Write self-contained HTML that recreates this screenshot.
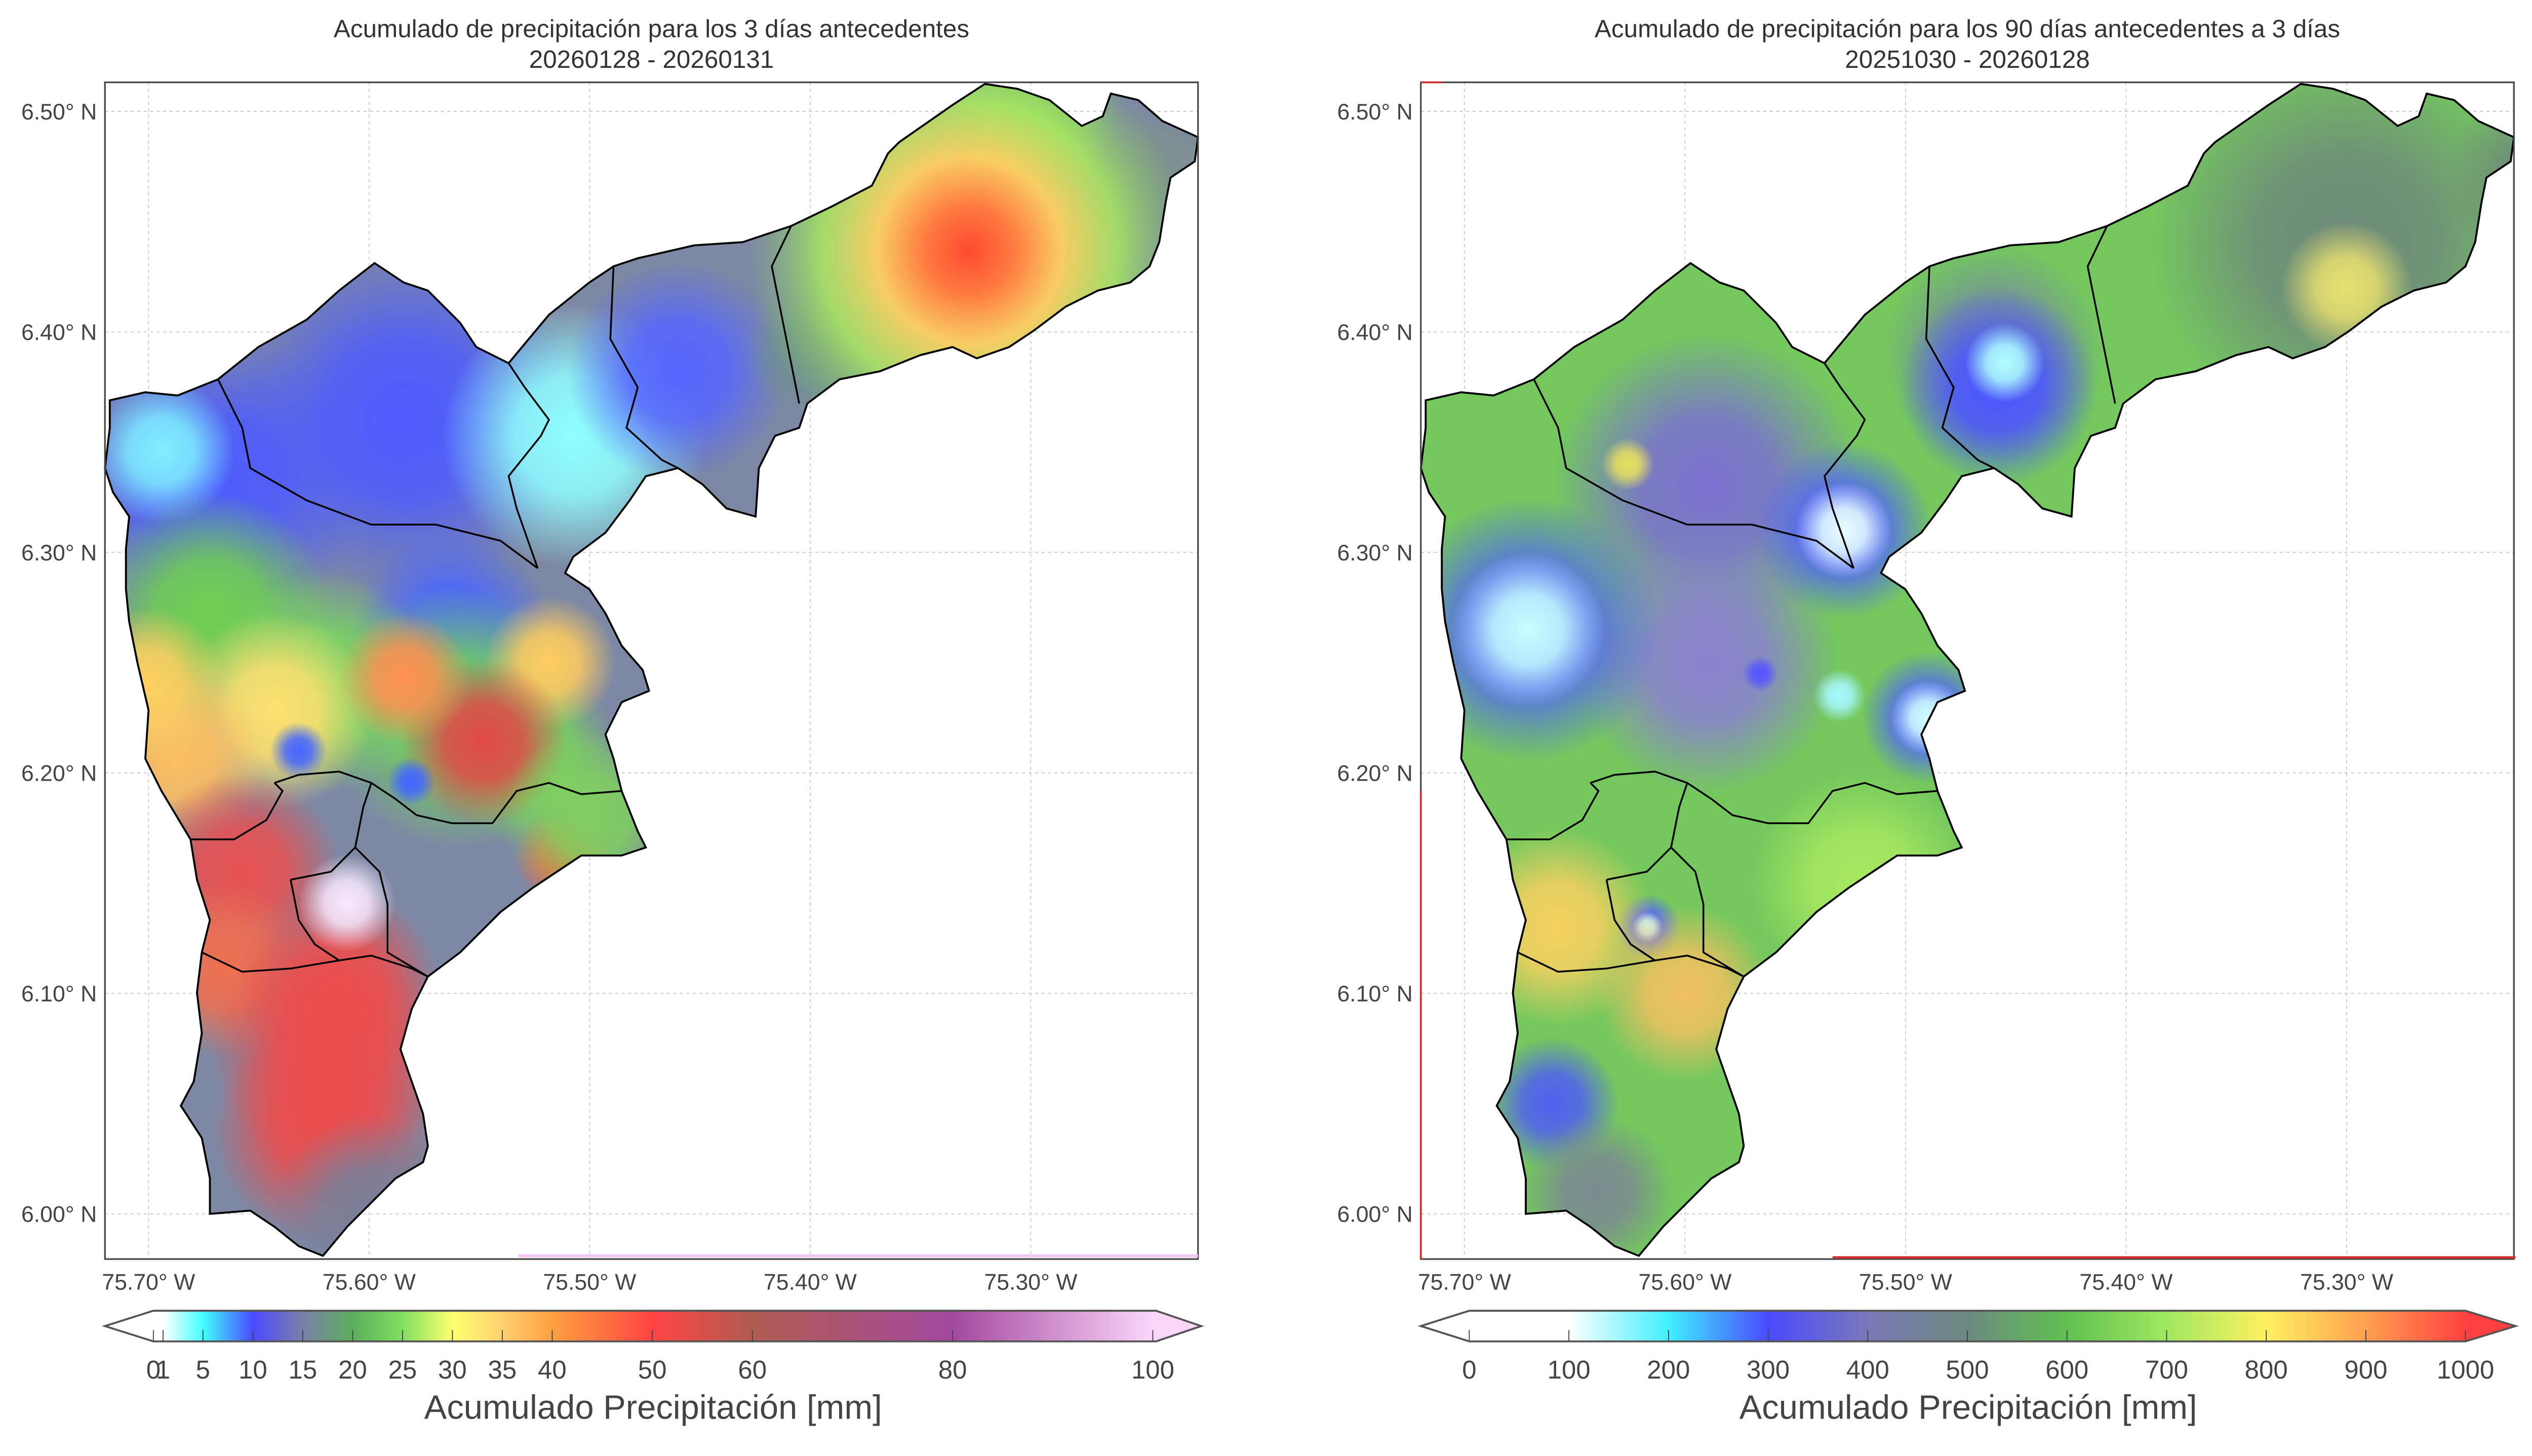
<!DOCTYPE html>
<html><head><meta charset="utf-8">
<style>
html,body{margin:0;padding:0;background:#fff;}
svg{display:block;font-family:"Liberation Sans",sans-serif;}
</style></head>
<body>
<svg id="fig" width="5044" height="2876" viewBox="0 0 1582 902" preserveAspectRatio="none" xmlns="http://www.w3.org/2000/svg">
<defs id="defs"></defs>
<g id="root"></g>
</svg>
<script>
// ---- Data ----
const lonTicks=[75.70,75.60,75.50,75.40,75.30];
const latTicks=[6.50,6.40,6.30,6.20,6.10,6.00];
const leftTitle=["Acumulado de precipitación para los 3 días antecedentes","20260128 - 20260131"];
const rightTitle=["Acumulado de precipitación para los 90 días antecedentes a 3 días","20251030 - 20260128"];
const cbLeftTicks=[0,1,5,10,15,20,25,30,35,40,50,60,80,100];
const cbLeftLabels=["0","1","5","10","15","20","25","30","35","40","50","60","80","100"];
const cbLeftColors=["#ffffff","#ffffff","#40ffff","#4a4aff","#7a80a8","#5cae5c","#80e060","#ffff70","#ffd070","#ffa040","#ff4444","#b05c50","#a448a0","#fad6fa"];
const cbRightTicks=[0,100,200,300,400,500,600,700,800,900,1000];
const cbRightColors=["#ffffff","#ffffff","#40f0ff","#4a4aff","#7a78b8","#6c8a80","#60c050","#a0e860","#fff060","#ffa050","#ff4040"];
const leftLon=[75.672,75.694,75.584,75.507,75.460,75.562,75.672,75.560,75.621,75.526,75.643,75.518,75.687,75.548,75.658,75.665,75.621,75.614,75.617,75.584,75.610,75.600,75.240,75.400,75.632,75.581,75.512,75.500,75.300,75.700];
const leftLat=[6.331,6.346,6.360,6.353,6.382,6.265,6.272,6.225,6.241,6.206,6.228,6.250,6.206,6.214,6.155,6.111,6.038,6.104,6.075,6.243,6.141,6.000,6.470,6.390,6.210,6.196,6.162,6.180,6.500,6.240];
const leftRad=[0.070,0.033,0.080,0.060,0.050,0.045,0.055,0.060,0.050,0.040,0.045,0.030,0.040,0.038,0.045,0.040,0.050,0.045,0.055,0.030,0.022,0.045,0.035,0.030,0.013,0.011,0.022,0.040,0.040,0.035];
const leftCol=["#4d5bff","#80efff","#4d5bff","#90ffff","#5566ff","#4a66ff","#70d050","#70d060","#78d860","#78d060","#ffe070","#ffcc60","#ffc060","#e04848","#e85050","#f07050","#ec4c4c","#e85050","#ec4c4c","#ff9050","#f8e8ff","#7a7f98","#7f8f90","#6f8f90","#4466ff","#4466ff","#ff6040","#80d060","#80c070","#ffd060"];
const hotLon=75.328, hotLat=6.437, hotRad=0.10;
const rightLon=[75.300,75.210,75.460,75.458,75.455,75.590,75.590,75.671,75.671,75.528,75.528,75.490,75.490,75.530,75.566,75.617,75.617,75.658,75.600,75.626,75.300,75.660,75.640,75.520];
const rightLat=[6.440,6.470,6.390,6.375,6.386,6.330,6.250,6.265,6.265,6.310,6.310,6.225,6.225,6.235,6.245,6.130,6.130,6.130,6.100,6.340,6.420,6.050,6.010,6.150];
const rightRad=[0.090,0.045,0.050,0.045,0.018,0.070,0.060,0.060,0.035,0.040,0.022,0.030,0.017,0.012,0.008,0.015,0.007,0.045,0.040,0.012,0.030,0.030,0.035,0.050];
const rightCol=["#6e8a7a","#6e8a7a","#768aa0","#4a55ff","#b0ffff","#7a70d0","#8a80d0","#5060ff","#c8ffff","#5060ff","#e8ffff","#5060ff","#d0ffff","#a8f8ff","#5555ff","#5060ff","#d0ffff","#f6d060","#f0c060","#e8e060","#e8e070","#5060f0","#7a8a90","#a8e860"];

const PX=1366;
function X(lon,off){return 92+off+(75.70-lon)*PX;}
function Y(lat){return 69+(6.50-lat)*PX;}
const outline=[[557,88],[590,65],[610,52],[630,55],[650,62],[670,78],[683,72],[688,58],[705,62],[720,75],[742,85],[740,100],[725,110],[722,125],[718,150],[712,165],[700,175],[680,180],[660,190],[640,205],[625,215],[605,222],[590,215],[570,220],[545,230],[520,235],[500,250],[495,265],[480,270],[470,290],[468,320],[450,315],[435,300],[420,290],[400,295],[390,310],[375,330],[355,345],[350,355],[365,365],[375,380],[385,400],[398,415],[402,428],[385,435],[375,455],[380,470],[385,490],[395,515],[400,525],[385,530],[360,530],[345,540],[330,550],[310,565],[285,590],[265,605],[255,625],[248,650],[255,670],[262,690],[265,710],[262,720],[245,730],[230,745],[215,760],[200,778],[185,772],[170,760],[155,750],[130,752],[130,730],[125,705],[112,685],[120,670],[125,640],[122,615],[125,590],[130,570],[122,545],[118,520],[100,490],[90,470],[92,440],[85,410],[80,385],[78,365],[78,340],[80,320],[70,305],[65,290],[68,265],[68,248],[90,243],[110,245],[135,235],[160,215],[190,198],[210,180],[232,163],[250,175],[265,180],[285,200],[295,215],[315,225],[340,195],[365,175],[380,165],[395,160],[430,152],[460,150],[490,140],[515,128],[540,115],[550,95]];
const borders=[
[[135,235],[150,265],[155,290],[190,310],[230,325],[270,325],[310,335],[333,352]],
[[315,225],[325,240],[340,260],[335,270],[315,295],[320,315],[333,352]],
[[380,165],[378,210],[395,240],[388,265],[410,285],[420,290]],
[[490,140],[478,165],[485,200],[495,250]],
[[170,485],[185,480],[210,478],[230,485],[245,495],[258,505],[280,510],[305,510],[320,490],[340,485],[360,492],[385,490]],
[[118,520],[145,520],[165,508],[175,490],[170,485]],
[[230,485],[225,500],[220,525],[235,540],[240,560],[240,590],[265,605]],
[[180,545],[185,570],[195,585],[210,595],[230,592],[255,600],[265,605]],
[[125,590],[150,602],[180,600],[210,595]],
[[180,545],[205,540],[220,525]]];

const NS="http://www.w3.org/2000/svg";
const root=document.getElementById('root');
const defs=document.getElementById('defs');
function mk(tag,attrs,parent){const e=document.createElementNS(NS,tag);for(const k in attrs)e.setAttribute(k,attrs[k]);(parent||root).appendChild(e);return e;}
let gid=0;
function ptsStr(off){return outline.map(p=>(p[0]+off)+','+p[1]).join(' ');}

function blob(g,lon,lat,r,col,off){
  const id='rg'+(gid++);
  const rg=mk('radialGradient',{id:id},defs);
  mk('stop',{offset:'0','stop-color':col,'stop-opacity':'1'},rg);
  mk('stop',{offset:'0.45','stop-color':col,'stop-opacity':'0.85'},rg);
  mk('stop',{offset:'1','stop-color':col,'stop-opacity':'0'},rg);
  const c=mk('circle',{cx:X(lon,off),cy:Y(lat),r:r*PX,fill:'url(#'+id+')'},g);
  
  
}

function panel(off,title,base,lons,lats,rads,cols,hot,name){
  const g=mk('g',{});
  
  
  const ax0=65+off, ax1=742+off;
  lonTicks.forEach(v=>{mk('line',{x1:X(v,off),x2:X(v,off),y1:51,y2:780,stroke:'#ccc','stroke-width':0.6,'stroke-dasharray':'2,2'},g);});
  latTicks.forEach(v=>{mk('line',{x1:ax0,x2:ax1,y1:Y(v),y2:Y(v),stroke:'#ccc','stroke-width':0.6,'stroke-dasharray':'2,2'},g);});
  const cid='clip'+off;
  const cp=mk('clipPath',{id:cid},defs);
  mk('polygon',{points:ptsStr(off)},cp);
  const mg=mk('g',{'clip-path':'url(#'+cid+')'},g);
  
  
  mk('rect',{x:ax0,y:40,width:700,height:760,fill:base},mg);
  for(let i=0;i<lons.length;i++)blob(mg,lons[i],lats[i],rads[i],cols[i],off);
  if(hot){
    const id='hot'+off;
    const rg=mk('radialGradient',{id:id},defs);
    [['0','#ff4a30',1],['0.2','#ff7a40',1],['0.42','#ffd060',0.95],['0.68','#a8e860',0.85],['1','#80d060',0]].forEach(s=>mk('stop',{offset:s[0],'stop-color':s[1],'stop-opacity':s[2]},rg));
    const c=mk('circle',{cx:X(hot[0],off),cy:Y(hot[1]),r:hot[2]*PX,fill:'url(#'+id+')'},mg);
    
    
  }
  const ol=mk('polygon',{points:ptsStr(off),fill:'none',stroke:'#000','stroke-width':1.2},g);
  
  
  borders.forEach(b=>{const l=mk('polyline',{points:b.map(p=>(p[0]+off)+','+p[1]).join(' '),fill:'none',stroke:'#000','stroke-width':1.1},g);
    });
  mk('rect',{x:ax0,y:51,width:677,height:729,fill:'none',stroke:'#444','stroke-width':1},g);
  lonTicks.forEach(v=>{const t=mk('text',{x:X(v,off),y:799,'text-anchor':'middle','font-size':14,fill:'#444'},g);t.textContent=v.toFixed(2)+'° W';
    });
  latTicks.forEach(v=>{const t=mk('text',{x:ax0-5,y:Y(v)+5,'text-anchor':'end','font-size':14,fill:'#444'},g);t.textContent=v.toFixed(2)+'° N';
    });
  title.forEach((s,i)=>{const t=mk('text',{x:(ax0+ax1)/2,y:23+i*19,'text-anchor':'middle','font-size':15.5,fill:'#333'},g);t.textContent=s;
    });
}

panel(0,leftTitle,'#7d88a4',leftLon,leftLat,leftRad,leftCol,[hotLon,hotLat,hotRad],'left-map-panel');
panel(815,rightTitle,'#74c85e',rightLon,rightLat,rightRad,rightCol,null,'right-map-panel');
mk('line',{x1:880,x2:893,y1:51,y2:51,stroke:'#d03030','stroke-width':1.2});
mk('line',{x1:880,x2:880,y1:490,y2:780,stroke:'#d03030','stroke-width':1.2});
mk('line',{x1:1135,x2:1558,y1:779,y2:779,stroke:'#d03030','stroke-width':1.5});
mk('line',{x1:321,x2:742,y1:778,y2:778,stroke:'#f4c8f4','stroke-width':2});

function colorbar(x0,x1,tip0,tip1,ticks,labels,colors,posFn,endL,endR,name){
  const g=mk('g',{});
  
  
  const id='cb'+x0;
  const lg=mk('linearGradient',{id:id,x1:'0',x2:'1',y1:'0',y2:'0'},defs);
  ticks.forEach((v,i)=>mk('stop',{offset:((posFn(v)-x0)/(x1-x0)).toFixed(4),'stop-color':colors[i]},lg));
  const y0=812,y1=831;
  mk('polygon',{points:`${tip0},${(y0+y1)/2} ${x0},${y0} ${x0},${y1}`,fill:endL},g);
  mk('polygon',{points:`${tip1},${(y0+y1)/2} ${x1},${y0} ${x1},${y1}`,fill:endR},g);
  mk('rect',{x:x0,y:y0,width:x1-x0,height:y1-y0,fill:'url(#'+id+')'},g);
  mk('polygon',{points:`${tip0},${(y0+y1)/2} ${x0},${y0} ${x1},${y0} ${tip1},${(y0+y1)/2} ${x1},${y1} ${x0},${y1}`,fill:'none',stroke:'#555','stroke-width':1.2},g);
  ticks.forEach((v,i)=>{const px=posFn(v);mk('line',{x1:px,x2:px,y1:y1-7,y2:y1,stroke:'#444','stroke-width':0.6},g);
    const t=mk('text',{x:px,y:854,'text-anchor':'middle','font-size':16,fill:'#444'},g);t.textContent=labels[i];
    });
  const t=mk('text',{x:(tip0+tip1)/2,y:879,'text-anchor':'middle','font-size':21,fill:'#444'},g);
  t.textContent='Acumulado Precipitación [mm]';
  
}
function posL(v){ if(v<=1)return 95+v*6; if(v<=40)return 101+(v-1)*(342-101)/39; return 342+(v-40)*6.2; }
colorbar(95,716,65,744,cbLeftTicks,cbLeftLabels,cbLeftColors,posL,'#ffffff','#fad6fa','left-colorbar');
colorbar(910,1527,880,1558,cbRightTicks,cbRightTicks.map(String),cbRightColors,v=>910+v*0.617,'#ffffff','#ff4040','right-colorbar');
</script>
</body></html>
